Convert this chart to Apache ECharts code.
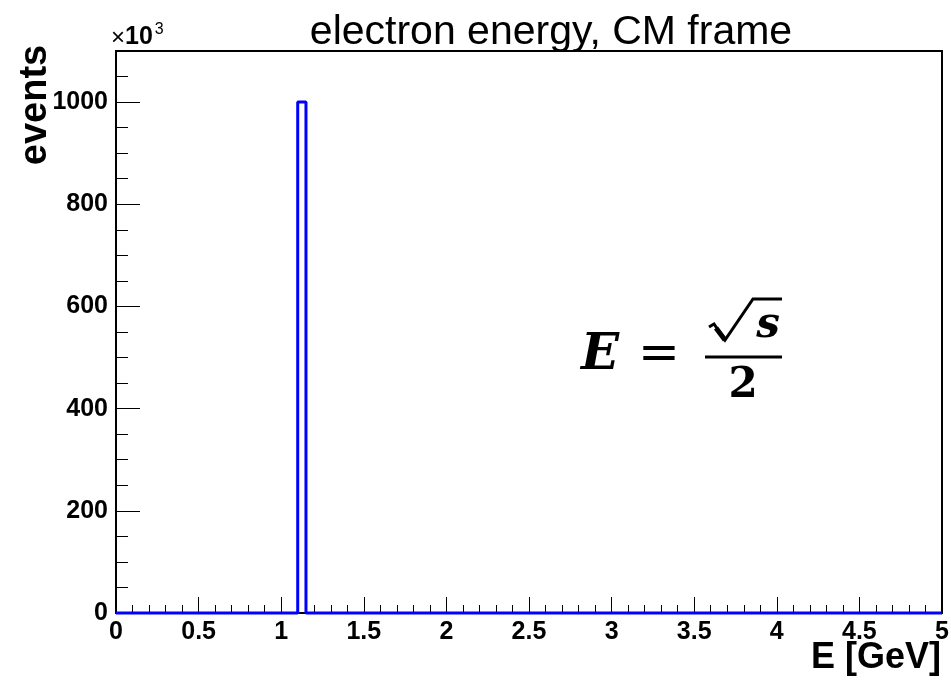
<!DOCTYPE html>
<html>
<head>
<meta charset="utf-8">
<script src="https://cdn.jsdelivr.net/npm/echarts@6/dist/echarts.min.js"></script>
<style>
  html, body { margin: 0; padding: 0; background: #fff; }
  #chart { width: 951px; height: 683px; }
</style>
</head>
<body>
<div id="chart"></div>
<script>
// histogram: bin edges (GeV) and counts (x10^3) in each range
const binEdges = [0, 1.10, 1.15, 5.0];
const binCounts = [0, 1000, 0];
const xTicks = { min: 0, max: 5, step: 0.5, minorSplit: 5 };
const yTicks = { min: 0, max: 1100, step: 200, minorStep: 50 };

const BLUE = "#0000ff";
const FONT = "Liberation Sans, Arial, sans-serif";
const MATH = "DejaVu Serif, serif";

// step outline points: value of bin i starts at its low edge, last edge closes it
const stepPoints = binCounts.map((c, i) => [binEdges[i], c]);
stepPoints.push([binEdges[binEdges.length - 1], 0]);

const chart = echarts.init(document.getElementById("chart"), null, { renderer: "canvas" });

const labelStyle = { color: "#000", fontFamily: FONT, fontWeight: "bold", fontSize: 25 };

chart.setOption({
  animation: false,
  title: {
    text: "electron energy, CM frame",
    left: 546,
    top: 7,
    textAlign: "center",
    textStyle: { fontFamily: FONT, fontWeight: "normal", fontSize: 41, color: "#000" },
  },
  grid: {
    left: 116, right: 9, top: 51, bottom: 70,
    outerBoundsMode: "none",
    containLabel: false,
    show: true, borderColor: "#000", borderWidth: 2, backgroundColor: "#fff",
  },
  xAxis: {
    type: "value",
    min: xTicks.min,
    max: xTicks.max,
    interval: xTicks.step,
    axisLine: { lineStyle: { color: "#000", width: 2 } },
    axisTick: { inside: true, length: 16, lineStyle: { color: "#000", width: 1 } },
    minorTick: { show: true, splitNumber: xTicks.minorSplit, length: 8, lineStyle: { color: "#000", width: 1 } },
    axisLabel: { ...labelStyle, margin: 7, formatter: (v) => String(+v.toFixed(1)) },
    splitLine: { show: false },
  },
  yAxis: [
    {
      type: "value",
      min: yTicks.min,
      max: yTicks.max,
      interval: yTicks.step,
      axisLine: { show: true, lineStyle: { color: "#000", width: 2 } },
      axisTick: { inside: true, length: 24, lineStyle: { color: "#000", width: 1 } },
      axisLabel: { ...labelStyle, margin: 8, showMaxLabel: false, formatter: (v) => String(v) },
      splitLine: { show: false },
    },
    {
      // minor ticks only
      type: "value",
      position: "left",
      offset: 0,
      min: yTicks.min,
      max: yTicks.max,
      interval: yTicks.minorStep,
      axisLine: { show: false },
      axisTick: { inside: true, length: 12, lineStyle: { color: "#000", width: 1 } },
      axisLabel: { show: false },
      splitLine: { show: false },
    },
  ],
  series: [
    {
      type: "line",
      step: "end",
      data: stepPoints,
      showSymbol: false,
      clip: false,
      lineStyle: { color: BLUE, width: 3 },
      z: 5,
    },
  ],
  graphic: [
    {
      type: "text",
      x: 36, y: 105, rotation: Math.PI / 2,
      style: { text: "events", fontFamily: FONT, fontWeight: "bold", fontSize: 38, fill: "#000", align: "center", verticalAlign: "middle" },
    },
    {
      type: "text",
      x: 941, y: 658,
      style: { text: "E [GeV]", fontFamily: FONT, fontWeight: "bold", fontSize: 36, fill: "#000", align: "right", verticalAlign: "middle" },
    },
    {
      type: "text",
      x: 111, y: 50,
      style: {
        text: "{a|×}{b|10}{c|3}",
        verticalAlign: "bottom",
        rich: {
          a: { fontFamily: FONT, fontSize: 24, fill: "#000", verticalAlign: "bottom" },
          b: { fontFamily: FONT, fontWeight: "bold", fontSize: 25, fill: "#000", verticalAlign: "bottom" },
          c: { fontFamily: FONT, fontSize: 16, fill: "#000", verticalAlign: "top", padding: [0, 0, 12, 2] },
        },
      },
    },
    // E = sqrt(s) / 2
    {
      type: "text", x: 600, y: 356,
      style: { text: "E", fontFamily: MATH, fontWeight: "bold", fontStyle: "italic", fontSize: 50, fill: "#000", align: "center", verticalAlign: "middle" },
    },
    {
      type: "text", x: 659, y: 356,
      style: { text: "=", fontFamily: MATH, fontSize: 50, fill: "#000", align: "center", verticalAlign: "middle" },
    },
    {
      type: "polyline",
      shape: { points: [[709, 327], [714, 324], [725, 340], [753, 299], [782, 299]] },
      style: { stroke: "#000", lineWidth: 3, fill: null, lineJoin: "miter" },
    },
    {
      type: "line", shape: { x1: 716, y1: 328, x2: 725, y2: 340 },
      style: { stroke: "#000", lineWidth: 5 },
    },
    {
      type: "text", x: 768, y: 326,
      style: { text: "s", fontFamily: MATH, fontWeight: "bold", fontStyle: "italic", fontSize: 42, fill: "#000", align: "center", verticalAlign: "middle" },
    },
    {
      type: "line", shape: { x1: 705, y1: 357, x2: 782, y2: 357 },
      style: { stroke: "#000", lineWidth: 3 },
    },
    {
      type: "text", x: 743, y: 386,
      style: { text: "2", fontFamily: MATH, fontWeight: "bold", fontSize: 42, fill: "#000", align: "center", verticalAlign: "middle" },
    },
  ],
});
</script>
</body>
</html>
